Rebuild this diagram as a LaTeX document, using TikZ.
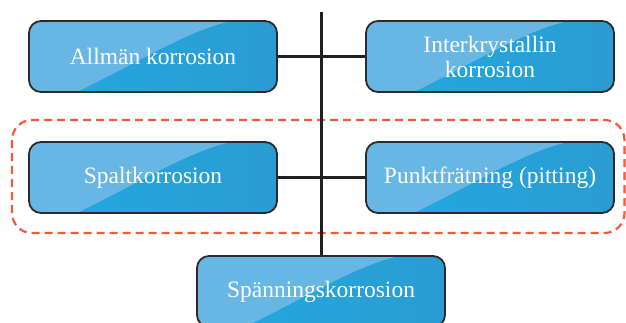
\documentclass[tikz,border=0pt]{standalone}
\usepackage{fontspec}
\setmainfont{Liberation Serif}
\definecolor{boxL}{HTML}{22A9E2}
\definecolor{boxR}{HTML}{2A9CD2}
\definecolor{gloss}{HTML}{68B6E4}
\definecolor{edge}{HTML}{2B2B2B}
\definecolor{conn}{HTML}{231F20}
\definecolor{grpred}{HTML}{F15A3A}
\tikzset{
  cbox/.style={rounded corners=12pt, draw=edge, line width=1.8pt,
    minimum width=248pt, minimum height=71pt, inner sep=0pt,
    left color=boxL, right color=boxR, text=white, align=center,
    font=\fontsize{23.5}{25}\selectfont,
    path picture={
      \fill[gloss, sharp corners] ([xshift=44pt,yshift=-2pt]path picture bounding box.south west)
        .. controls ([xshift=125pt,yshift=38pt]path picture bounding box.south west)
        and ([xshift=170pt,yshift=-3pt]path picture bounding box.north west)
        .. ([xshift=215pt,yshift=2pt]path picture bounding box.north west)
        -- ([xshift=-2pt,yshift=2pt]path picture bounding box.north west)
        -- ([xshift=-2pt,yshift=-2pt]path picture bounding box.south west) -- cycle;
    }},
  link/.style={draw=conn, line width=3pt},
  grp/.style={draw=grpred, line width=2.2pt, dash pattern=on 8pt off 5pt, rounded corners=20pt}
}
\begin{document}
\begin{tikzpicture}[x=1pt,y=-1pt]
\useasboundingbox (0,0) rectangle (626,322);
\draw[grp] (12,120) rectangle (624.5,233);
\coordinate (top) at (321,12);
\node[cbox] (b1) at (153,56.5) {Allmän korrosion};
\node[cbox] (b2) at (490,56.5) {Interkrystallin\\korrosion};
\node[cbox] (b3) at (153,177.5) {Spaltkorrosion};
\node[cbox] (b4) at (490,177.5) {Punktfrätning (pitting)};
\node[cbox] (b5) at (321,291.5) {Spänningskorrosion};
\draw[link] (top) -- (b5.north);
\draw[link] (b1.east) -- (b2.west);
\draw[link] (b3.east) -- (b4.west);
\end{tikzpicture}
\end{document}
